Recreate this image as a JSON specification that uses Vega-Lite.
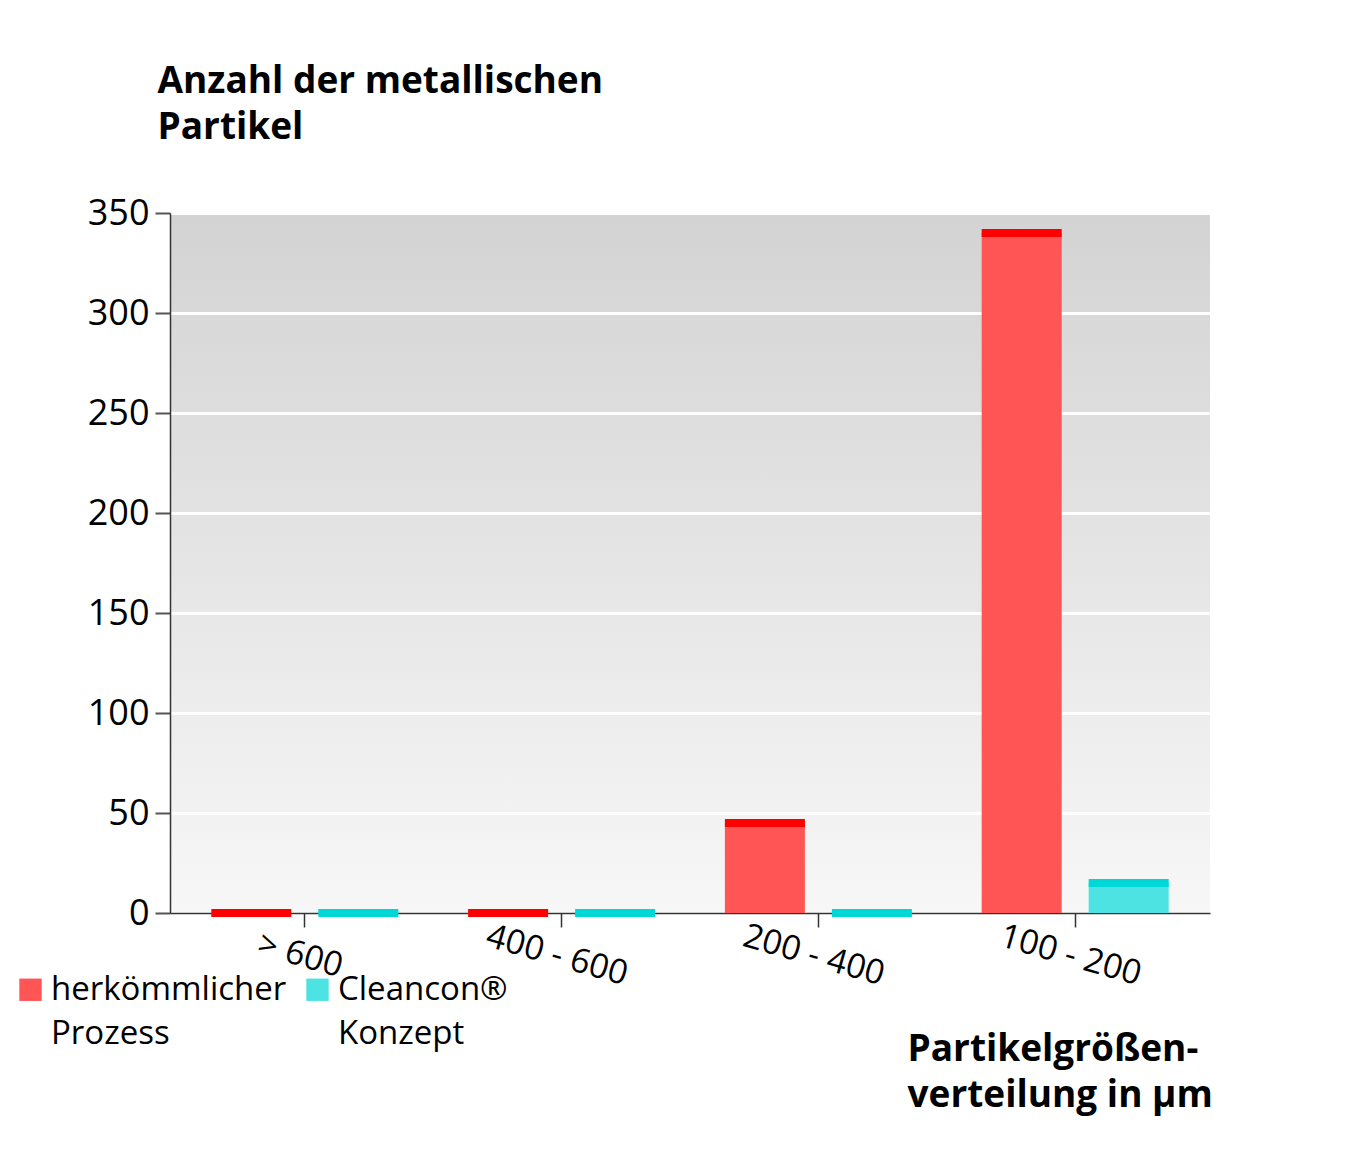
{
  "$schema": "https://vega.github.io/schema/vega-lite/v6.json",
  "width": 1040,
  "height": 700,
  "autosize": {"type": "none"},
  "padding": {"left": 170, "top": 213, "right": 161, "bottom": 262},
  "background": "white",
  "config": {
    "font": "Open Sans",
    "style": {"guide-label": {"lineHeight": 44}},
    "view": {
      "stroke": null,
      "fill": {
        "gradient": "linear",
        "x1": 0, "y1": 0, "x2": 0, "y2": 1,
        "stops": [
          {"offset": 0, "color": "#d3d3d3"},
          {"offset": 1, "color": "#f7f7f7"}
        ]
      }
    }
  },
  "data": {
    "values": [
      {"groesse": "> 600", "prozess": "herkömmlicher Prozess", "anzahl": 0},
      {"groesse": "400 - 600", "prozess": "herkömmlicher Prozess", "anzahl": 0},
      {"groesse": "200 - 400", "prozess": "herkömmlicher Prozess", "anzahl": 45},
      {"groesse": "100 - 200", "prozess": "herkömmlicher Prozess", "anzahl": 340},
      {"groesse": "> 600", "prozess": "Cleancon® Konzept", "anzahl": 0},
      {"groesse": "400 - 600", "prozess": "Cleancon® Konzept", "anzahl": 0},
      {"groesse": "200 - 400", "prozess": "Cleancon® Konzept", "anzahl": 0},
      {"groesse": "100 - 200", "prozess": "Cleancon® Konzept", "anzahl": 15}
    ]
  },
  "encoding": {
    "x": {
      "field": "groesse",
      "type": "nominal",
      "sort": ["> 600", "400 - 600", "200 - 400", "100 - 200"],
      "scale": {"paddingInner": 0.25, "paddingOuter": 0.15},
      "axis": {
        "title": ["Partikelgrößen-", "verteilung in µm"],
        "titleFontSize": 37,
        "titleFontWeight": "bold",
        "titleColor": "black",
        "titleX": 737,
        "titleY": 147,
        "titleAlign": "left",
        "titleBaseline": "alphabetic",
        "titleLineHeight": 46,
        "labelFontSize": 34,
        "labelColor": "black",
        "labelAngle": 16,
        "labelAlign": "center",
        "labelPadding": 12,
        "domainColor": "#333333",
        "domainWidth": 1.5,
        "tickColor": "#333333",
        "tickSize": 14,
        "tickWidth": 1.5,
        "ticks": true
      }
    },
    "xOffset": {
      "field": "prozess",
      "type": "nominal",
      "sort": ["herkömmlicher Prozess", "Cleancon® Konzept"],
      "scale": {"paddingInner": 0.2}
    },
    "y": {
      "field": "anzahl",
      "type": "quantitative",
      "scale": {"domain": [0, 350]},
      "axis": {
        "values": [0, 50, 100, 150, 200, 250, 300, 350],
        "title": ["Anzahl der metallischen", "Partikel"],
        "titleAngle": 0,
        "titleFontSize": 37,
        "titleFontWeight": "bold",
        "titleColor": "black",
        "titleX": -13,
        "titleY": -121,
        "titleAlign": "left",
        "titleBaseline": "alphabetic",
        "titleLineHeight": 46,
        "labelFontSize": 36,
        "labelColor": "black",
        "labelPadding": 6,
        "grid": true,
        "gridColor": "white",
        "gridWidth": 3,
        "domainColor": "#333333",
        "domainWidth": 1.5,
        "tickColor": "#555555",
        "tickSize": 15,
        "tickWidth": 2
      }
    }
  },
  "layer": [
    {
      "mark": {"type": "bar", "width": 80},
      "encoding": {
        "color": {
          "field": "prozess",
          "type": "nominal",
          "scale": {
            "domain": ["herkömmlicher Prozess", "Cleancon® Konzept"],
            "range": ["#FF5555", "#4DE3E3"]
          },
          "legend": {
            "title": null,
            "orient": "none",
            "legendX": -156,
            "legendY": 760,
            "direction": "horizontal",
            "symbolType": "square",
            "symbolSize": 500,
            "symbolStrokeWidth": 0,
            "labelFontSize": 33,
            "labelColor": "black",
            "labelLimit": 400,
            "columnPadding": 14,
            "labelExpr": "datum.label == 'herkömmlicher Prozess' ? ['herkömmlicher', 'Prozess'] : ['Cleancon®', 'Konzept']"
          }
        }
      }
    },
    {
      "mark": {"type": "tick", "size": 80, "thickness": 8, "opacity": 1},
      "encoding": {
        "color": {
          "field": "prozess",
          "type": "nominal",
          "scale": {
            "domain": ["herkömmlicher Prozess", "Cleancon® Konzept"],
            "range": ["#FF0000", "#00D8D8"]
          },
          "legend": null
        }
      }
    }
  ],
  "resolve": {"scale": {"color": "independent"}}
}
